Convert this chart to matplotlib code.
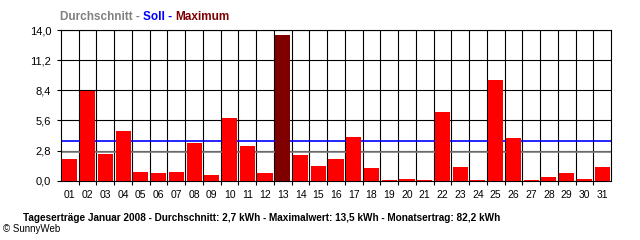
import matplotlib
matplotlib.use("Agg")
import matplotlib.pyplot as plt
import numpy as np

# daily yield January 2008 (kWh)
days = ['01', '02', '03', '04', '05', '06', '07', '08', '09', '10',
        '11', '12', '13', '14', '15', '16', '17', '18', '19', '20',
        '21', '22', '23', '24', '25', '26', '27', '28', '29', '30', '31']
yields_kwh = [2.0, 8.3, 2.5, 4.6, 0.8, 0.7, 0.8, 3.5, 0.5, 5.8,
              3.2, 0.7, 13.5, 2.4, 1.4, 2.0, 4.1, 1.2, 0.1, 0.2,
              0.1, 6.4, 1.3, 0.1, 9.4, 4.0, 0.1, 0.3, 0.7, 0.2, 1.3]
avg_kwh = 2.65
soll_kwh = 3.65
yticks = [0.0, 2.8, 5.6, 8.4, 11.2, 14.0]
ytick_labels = ['0,0', '2,8', '5,6', '8,4', '11,2', '14,0']

font = 'Liberation Sans'
plt.rcParams['font.family'] = [font, 'DejaVu Sans']

fig = plt.figure(figsize=(6.4, 2.4), dpi=100)
ax = fig.add_axes([61 / 640, 1 - 180.7 / 240, 550 / 640, 150.7 / 240])

x = np.arange(len(days))
colors = ['#ff0000'] * len(days)
colors[int(np.argmax(yields_kwh))] = '#800000'
ax.bar(x, yields_kwh, width=0.85, color=colors, zorder=3)

ax.axhline(soll_kwh, color='#0000ff', lw=1.2, zorder=2.5)
ax.axhline(avg_kwh, color='#808080', lw=1.2, zorder=2.5)

ax.set_xlim(-0.5, len(days) - 0.5)
ax.set_ylim(0, 14.0)
ax.set_xticks(x)
ax.set_xticklabels(days, fontsize=7.5)
ax.set_xticks(x[:-1] + 0.5, minor=True)
ax.set_yticks(yticks)
ax.set_yticklabels(ytick_labels, fontsize=8)
ax.tick_params(axis='x', which='major', length=0, pad=6.5)
ax.tick_params(axis='x', which='minor', length=3, width=0.8, direction='out')
ax.tick_params(axis='y', length=3, width=0.8, pad=4)
ax.xaxis.grid(True, which='minor', color='black', lw=0.8)
ax.yaxis.grid(True, which='major', color='black', lw=0.8)
ax.set_axisbelow(True)
for s in ax.spines.values():
    s.set_linewidth(0.8)
    s.set_color('black')

# legend-like title in three colours
t1 = fig.text(60 / 640, 1 - 20 / 240, 'Durchschnitt - ', color='#808080',
              fontsize=8.5, fontweight='bold', va='baseline')
t2 = ax.annotate('Soll - ', xycoords=t1, xy=(1, 0), va='bottom',
                 color='#0000ff', fontsize=8.5, fontweight='bold')
ax.annotate('Maximum', xycoords=t2, xy=(1, 0), va='bottom',
            color='#800000', fontsize=8.5, fontweight='bold')

fig.text(23 / 640, 1 - 220.7 / 240,
         'Tageserträge Januar 2008 - Durchschnitt: 2,7 kWh - Maximalwert: 13,5 kWh - Monatsertrag: 82,2 kWh',
         fontsize=7.2, fontweight='bold', va='baseline')
fig.text(3 / 640, 1 - 231.7 / 240, '© SunnyWeb', fontsize=7, va='baseline')

fig.savefig('out.png', dpi=100)
